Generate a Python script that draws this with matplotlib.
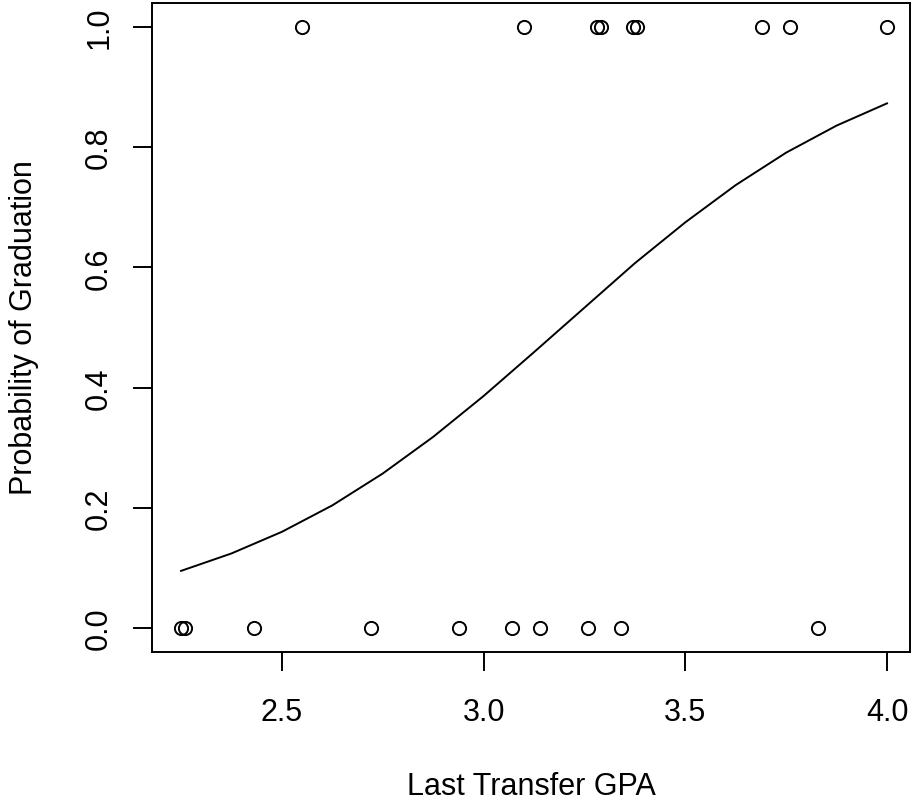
import matplotlib
matplotlib.use("Agg")
import matplotlib.pyplot as plt

# observed outcomes (0 = did not graduate, 1 = graduated)
gpa_fail = [2.25, 2.26, 2.43, 2.72, 2.94, 3.07, 3.14, 3.26, 3.34, 3.83]
gpa_grad = [2.55, 3.10, 3.28, 3.29, 3.37, 3.38, 3.69, 3.76, 4.00]

# fitted probability curve
curve_x = [2.25, 2.375, 2.5, 2.625, 2.75, 2.875, 3.0, 3.125, 3.25,
           3.375, 3.5, 3.625, 3.75, 3.875, 4.0]
curve_p = [0.095, 0.124, 0.160, 0.204, 0.257, 0.318, 0.386, 0.459, 0.533,
           0.607, 0.675, 0.737, 0.791, 0.836, 0.873]

xticks = [2.5, 3.0, 3.5, 4.0]
yticks = [0.0, 0.2, 0.4, 0.6, 0.8, 1.0]

plt.rcParams['font.family'] = ['Liberation Sans', 'DejaVu Sans']
FS = 22
LW = 1.4

fig = plt.figure(figsize=(9.14, 8.04), dpi=100)
ax = fig.add_axes([152 / 914, 151 / 804, 758 / 914, 649 / 804])

ax.plot(gpa_fail, [0] * len(gpa_fail), 'o', mfc='none', mec='black',
        ms=9.5, mew=1.4)
ax.plot(gpa_grad, [1] * len(gpa_grad), 'o', mfc='none', mec='black',
        ms=9.5, mew=1.4)
ax.plot(curve_x, curve_p, color='black', lw=LW)

ax.set_xlim(2.178, 4.057)
ax.set_ylim(-0.04, 1.04)
ax.set_xticks(xticks)
ax.set_xticklabels(['%.1f' % v for v in xticks])
ax.set_yticks(yticks)
ax.set_yticklabels(['%.1f' % v for v in yticks], rotation=90, va='center')

for s in ax.spines.values():
    s.set_linewidth(LW)
ax.tick_params(axis='both', length=13.7, width=LW, labelsize=FS,
               colors='black')
ax.tick_params(axis='x', pad=18.5)
ax.tick_params(axis='y', pad=13.5)

fig.text(531 / 914, 9 / 804, 'Last Transfer GPA', ha='center',
         va='baseline', fontsize=FS)
fig.text(32 / 914, 1 - 328 / 804, 'Probability of Graduation', rotation=90,
         rotation_mode='anchor', ha='center', va='baseline', fontsize=FS)

fig.savefig('out.png', dpi=100)
